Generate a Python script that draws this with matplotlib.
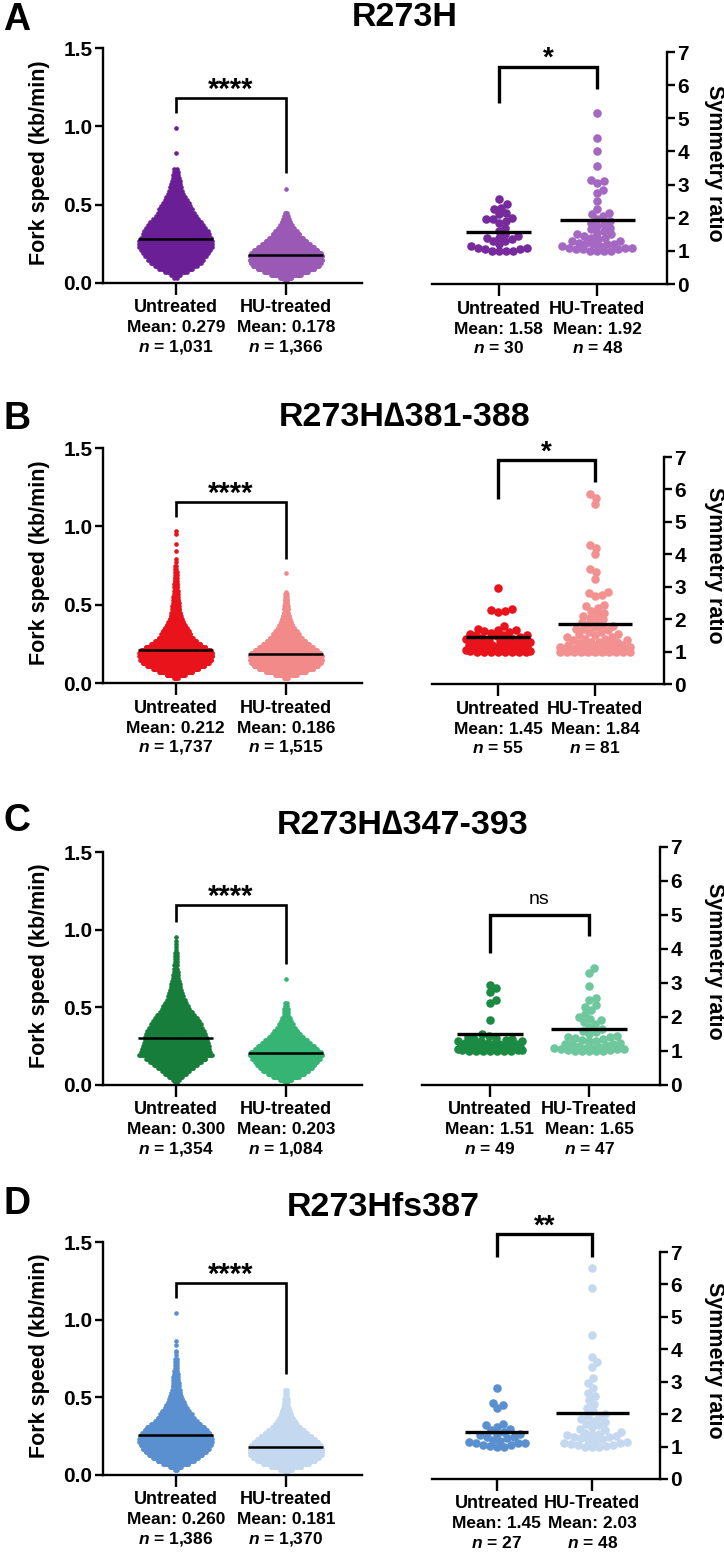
import numpy as np
import matplotlib
matplotlib.use('Agg')
import matplotlib.pyplot as plt

plt.rcParams['font.family'] = ['Liberation Sans', 'DejaVu Sans']
plt.rcParams['font.weight'] = 'bold'
plt.rcParams['mathtext.fontset'] = 'custom'
plt.rcParams['mathtext.it'] = 'Liberation Sans:italic:bold'
plt.rcParams['mathtext.rm'] = 'Liberation Sans:bold'

# ---- data ----
titles = ['R273H', 'R273H\u2206381-388', 'R273H\u2206347-393', 'R273Hfs387']
letters = ['A', 'B', 'C', 'D']
speed_groups = ['Untreated', 'HU-treated']
ratio_groups = ['Untreated', 'HU-Treated']

speed_means = [[0.279, 0.178], [0.212, 0.186], [0.300, 0.203], [0.260, 0.181]]
speed_n = [['1,031', '1,366'], ['1,737', '1,515'], ['1,354', '1,084'], ['1,386', '1,370']]
ratio_means = [[1.58, 1.92], [1.45, 1.84], [1.51, 1.65], [1.45, 2.03]]
ratio_n = [['30', '48'], ['55', '81'], ['49', '47'], ['27', '48']]
speed_sig = ['****', '****', '****', '****']
ratio_sig = ['*', '*', 'ns', '**']

# fork speed: number of fibres per 0.02 kb/min bin (starting at 0), plus isolated high values
BIN = 0.02
a_untr_bins = [0, 2, 7, 17, 26, 33, 39, 43, 48, 51, 54, 57, 57, 57, 55, 52, 50, 46, 43, 40, 35, 31,
               28, 26, 23, 20, 17, 15, 12, 10, 9, 7, 6, 5, 4, 3, 2]
a_untr_high = [0.83, 0.99]
a_hu_bins = [2, 18, 48, 72, 93, 108, 116, 120, 120, 114, 104, 92, 79, 67, 55, 44, 35, 26, 19, 14,
             10, 6, 4]
a_hu_high = [0.60]
b_untr_bins = [0, 7, 36, 64, 89, 112, 129, 139, 143, 143, 136, 117, 97, 80, 67, 57, 51, 43, 36, 29,
               24, 20, 17, 14, 13, 11, 10, 9, 7, 7, 6, 6, 4, 4, 3, 3, 2, 2]
b_untr_high = [0.77, 0.79, 0.84, 0.89, 0.95, 0.97]
b_hu_bins = [0, 7, 40, 74, 100, 118, 128, 134, 134, 127, 114, 99, 84, 71, 59, 48, 39, 31, 24, 19,
             15, 12, 9, 8, 7, 5, 5, 4, 3]
b_hu_high = [0.58, 0.70]
c_untr_bins = [2, 6, 14, 22, 29, 37, 45, 54, 63, 77, 73, 71, 70, 68, 66, 65, 62, 60, 56, 53, 49, 44,
               39, 34, 29, 26, 22, 19, 16, 14, 12, 10, 9, 7, 5, 5, 4, 3, 3, 2, 2, 2, 2, 1, 1, 1, 1, 1]
c_untr_high = []
c_hu_bins = [3, 14, 32, 46, 57, 65, 72, 79, 86, 92, 88, 79, 70, 61, 52, 43, 36, 29, 22, 18, 13, 9,
             6, 5, 4, 3, 2]
c_hu_high = [0.68]
d_untr_bins = [0, 3, 14, 32, 46, 57, 67, 76, 84, 89, 92, 92, 90, 85, 79, 72, 62, 53, 46, 40, 34, 28,
               24, 20, 17, 14, 12, 10, 8, 7, 6, 6, 5, 4, 3, 3, 2, 2, 1, 1]
d_untr_high = [0.80, 0.84, 0.86, 1.04]
d_hu_bins = [2, 18, 48, 72, 90, 104, 112, 114, 114, 109, 101, 91, 79, 67, 55, 44, 35, 27, 21, 17,
             13, 10, 7, 6, 5, 4, 3, 2]
d_hu_high = []

# symmetry ratios
a_untr_ratio = [2.55, 2.4, 2.3, 2.25, 2.15, 2.1, 2.0, 1.95, 1.95, 1.9, 1.85, 1.7, 1.6, 1.5, 1.45,
                1.4, 1.4, 1.35, 1.3, 1.3, 1.2, 1.15, 1.1, 1.1, 1.05, 1.05, 1.0, 1.0, 1.0, 1.0]
a_hu_ratio = [5.15, 4.4, 4.0, 3.55, 3.15, 3.1, 3.05, 2.85, 2.75, 2.5, 2.25, 2.15, 2.1, 2.05, 1.95,
              1.9, 1.85, 1.8, 1.75, 1.7, 1.65, 1.6, 1.55, 1.5, 1.5, 1.45, 1.4, 1.4, 1.35, 1.3, 1.3,
              1.25, 1.25, 1.2, 1.2, 1.2, 1.15, 1.15, 1.1, 1.1, 1.1, 1.05, 1.05, 1.05, 1.0, 1.0, 1.0, 1.0]
b_untr_ratio = [2.95, 2.3, 2.28, 2.25, 2.22, 1.8, 1.7, 1.68, 1.65, 1.62, 1.6, 1.58, 1.55, 1.52, 1.5,
                1.5, 1.48, 1.45, 1.42, 1.4, 1.4, 1.38, 1.35, 1.33, 1.3, 1.3, 1.28, 1.25, 1.25, 1.22,
                1.2, 1.2, 1.2, 1.18, 1.15, 1.15, 1.12, 1.1, 1.1, 1.1, 1.08, 1.05, 1.05, 1.05, 1.05,
                1.02, 1.02, 1.0, 1.0, 1.0, 1.0, 1.0, 1.0, 1.0, 1.0]
b_hu_ratio = [5.85, 5.75, 5.55, 4.3, 4.2, 4.0, 3.55, 3.45, 3.25, 2.85, 2.8, 2.75, 2.7, 2.45, 2.4,
              2.35, 2.25, 2.2, 2.15, 2.1, 2.05, 2.0, 1.95, 1.9, 1.85, 1.8, 1.8, 1.75, 1.7, 1.7, 1.65,
              1.6, 1.6, 1.55, 1.5, 1.5, 1.45, 1.45, 1.4, 1.4, 1.35, 1.35, 1.3, 1.3, 1.3, 1.25, 1.25,
              1.2, 1.2, 1.2, 1.2, 1.15, 1.15, 1.15, 1.1, 1.1, 1.1, 1.1, 1.1, 1.08, 1.08, 1.05, 1.05,
              1.05, 1.05, 1.05, 1.02, 1.02, 1.02, 1.02, 1.0, 1.0, 1.0, 1.0, 1.0, 1.0, 1.0, 1.0, 1.0,
              1.0, 1.0]
c_untr_ratio = [2.95, 2.85, 2.75, 2.5, 2.4, 1.9, 1.5, 1.45, 1.4, 1.38, 1.35, 1.35, 1.32, 1.3, 1.3,
                1.28, 1.25, 1.25, 1.22, 1.2, 1.2, 1.2, 1.18, 1.18, 1.15, 1.15, 1.15, 1.12, 1.12, 1.1,
                1.1, 1.1, 1.1, 1.08, 1.08, 1.05, 1.05, 1.05, 1.05, 1.02, 1.02, 1.02, 1.0, 1.0, 1.0,
                1.0, 1.0, 1.0, 1.0]
c_hu_ratio = [3.45, 3.3, 2.9, 2.55, 2.5, 2.35, 2.3, 2.2, 2.1, 2.0, 1.95, 1.9, 1.85, 1.8, 1.7, 1.65,
              1.6, 1.55, 1.5, 1.45, 1.42, 1.4, 1.38, 1.35, 1.32, 1.3, 1.28, 1.25, 1.22, 1.2, 1.2,
              1.18, 1.15, 1.12, 1.1, 1.1, 1.08, 1.05, 1.05, 1.05, 1.02, 1.02, 1.0, 1.0, 1.0, 1.0, 1.0]
d_untr_ratio = [2.8, 2.35, 2.28, 2.18, 1.7, 1.65, 1.6, 1.55, 1.5, 1.45, 1.4, 1.38, 1.35, 1.3, 1.28,
                1.25, 1.2, 1.18, 1.15, 1.12, 1.1, 1.1, 1.05, 1.05, 1.02, 1.0, 1.0]
d_hu_ratio = [6.5, 5.9, 4.45, 3.75, 3.6, 3.45, 3.1, 2.95, 2.8, 2.65, 2.55, 2.45, 2.3, 2.2, 2.1, 2.0,
              1.95, 1.9, 1.85, 1.8, 1.75, 1.7, 1.65, 1.6, 1.55, 1.5, 1.45, 1.42, 1.4, 1.38, 1.35,
              1.32, 1.3, 1.28, 1.25, 1.22, 1.2, 1.18, 1.15, 1.12, 1.1, 1.08, 1.05, 1.05, 1.02, 1.0,
              1.0, 1.0]

speed_bins = [(a_untr_bins, a_hu_bins), (b_untr_bins, b_hu_bins),
              (c_untr_bins, c_hu_bins), (d_untr_bins, d_hu_bins)]
speed_high = [(a_untr_high, a_hu_high), (b_untr_high, b_hu_high),
              (c_untr_high, c_hu_high), (d_untr_high, d_hu_high)]
ratios = [(a_untr_ratio, a_hu_ratio), (b_untr_ratio, b_hu_ratio),
          (c_untr_ratio, c_hu_ratio), (d_untr_ratio, d_hu_ratio)]

# ---- style / layout ----
left_colors = [('#6a1f96', '#9a59b4'), ('#e8131b', '#f28a8a'),
               ('#177d3b', '#35b473'), ('#5b90d0', '#c4d8ef')]
right_colors = [('#762a9c', '#a468c2'), ('#e8131b', '#f39090'),
                ('#1b8a43', '#6fc79d'), ('#5b90d0', '#c4d8ef')]

W, H = 724, 1553
# pixel boxes (x0, x1, ytop, ybottom)
left_box = [(103, 362, 48, 283), (103, 362, 448, 683), (103, 362, 852, 1085), (103, 362, 1242, 1475)]
right_box = [(432, 667, 52, 284), (432, 664, 457, 684), (422, 660, 847, 1085), (432, 660, 1252, 1479)]
title_pos = [(405, 18), (405, 417), (403, 826), (383, 1208)]
letter_pos = [(17, 20), (17, 419), (17, 821), (17, 1204)]
# brackets: (left end, top, right end)
left_br = [(1.085, 1.18, 0.70), (1.06, 1.155, 0.79), (1.05, 1.16, 0.78), (1.14, 1.236, 0.65)]
right_br = [(5.46, 6.55, 5.89), (5.69, 6.9, 6.23), (3.89, 5.0, 4.38), (6.84, 7.54, 6.84)]
LX = (-0.66, 1.69)
RX = (-0.68, 1.71)
FS_TICK = 15


def box_axes(fig, b):
    x0, x1, yt, yb = b
    return fig.add_axes([x0 / W, 1 - yb / H, (x1 - x0) / W, (yb - yt) / H])


def fork_points(counts, high, hw):
    counts = np.asarray(counts)
    cmax = counts.max()
    xs, ys = [], []
    for i, c in enumerate(counts):
        if c == 0:
            continue
        y = (i + 0.5) * BIN
        w = hw * c / cmax
        if c == 1:
            xs.append(0.0)
        else:
            xs.extend(np.linspace(-w, w, c))
        ys.extend([y] * c)
    for v in high:
        xs.append(0.0)
        ys.append(v)
    return np.array(xs), np.array(ys)


def swarm(vals, pxx, pxy, dmin=6.0, cap=34):
    ypx = np.asarray(vals) * pxy
    order = np.argsort(ypx, kind='stable')
    cands = [0]
    for k in range(1, cap + 1):
        cands += [k, -k]
    placed = []
    xs = np.zeros(len(vals))
    for i in order:
        best, best_d = 0, -1
        for c in cands:
            if placed:
                d = min(np.hypot(c - px, ypx[i] - py) for px, py in placed)
            else:
                d = np.inf
            if d >= dmin:
                best = c
                break
            if d > best_d:
                best, best_d = c, d
        xs[i] = best
        placed.append((best, ypx[i]))
    return xs / pxx


def style_axis(ax):
    for s in ax.spines.values():
        s.set_linewidth(1.7)
    ax.tick_params(axis='x', length=8.5, width=1.7, labelbottom=False)
    ax.tick_params(axis='y', length=6.0, width=1.7, pad=1.5, labelsize=FS_TICK)
    ax.set_xticks([0, 1])


def under_labels(ax, groups, means, ns, fmt):
    rows = [(groups[0], groups[1], -25, 13),
            ('Mean: ' + fmt.format(means[0]), 'Mean: ' + fmt.format(means[1]), -45, 12.5),
            ('$n$ = ' + ns[0], '$n$ = ' + ns[1], -64, 12.5)]
    for t0, t1, dy, fs in rows:
        for k, t in enumerate((t0, t1)):
            ax.annotate(t, xy=(k, 0), xycoords=('data', 'axes fraction'),
                        xytext=(0, dy), textcoords='offset pixels', ha='center', va='center',
                        fontsize=fs, fontweight='bold')


def sig_text(ax, top, label, size, weight, lift):
    ax.annotate(label, xy=(0.5, top), xycoords='data', xytext=(0, lift),
                textcoords='offset pixels', ha='center', va='baseline',
                fontsize=size, fontweight=weight, annotation_clip=False)


fig = plt.figure(figsize=(W / 100, H / 100), dpi=100)

for p in range(4):
    # panel letter and title
    fig.text(letter_pos[p][0] / W, 1 - letter_pos[p][1] / H, letters[p], fontsize=27,
             fontweight='bold', ha='center', va='center')
    fig.text(title_pos[p][0] / W, 1 - title_pos[p][1] / H, titles[p], fontsize=24.5,
             fontweight='bold', ha='center', va='center')

    # ---- fork speed ----
    ax = box_axes(fig, left_box[p])
    style_axis(ax)
    ax.spines['top'].set_visible(False)
    ax.spines['right'].set_visible(False)
    ax.set_xlim(*LX)
    ax.set_ylim(0, 1.5)
    ax.set_yticks([0, 0.5, 1.0, 1.5])
    ax.set_yticklabels(['0.0', '0.5', '1.0', '1.5'])
    for k in range(2):
        xs, ys = fork_points(speed_bins[p][k], speed_high[p][k], 0.33)
        ax.scatter(k + xs, ys, s=11, color=left_colors[p][k], linewidths=0, clip_on=False, zorder=2)
        ax.plot([k - 0.34, k + 0.34], [speed_means[p][k]] * 2, color='black', lw=1.8, zorder=3,
                solid_capstyle='butt')
    yl, yt, yr = left_br[p]
    ax.plot([0, 0, 1, 1], [yl, yt, yt, yr], color='black', lw=1.9, clip_on=False,
            solid_joinstyle='miter', solid_capstyle='butt')
    sig_text(ax, yt, speed_sig[p], 21, 'bold', 0)
    under_labels(ax, speed_groups, speed_means[p], speed_n[p], '{:.3f}')
    x0, x1, ytp, ybt = left_box[p]
    fig.text(40 / W, 1 - ((ytp + ybt) / 2 - 3) / H, 'Fork speed (kb/min)', rotation=90,
             ha='center', va='center', fontsize=15.5, fontweight='bold')

    # ---- symmetry ratio ----
    ax2 = box_axes(fig, right_box[p])
    style_axis(ax2)
    ax2.spines['top'].set_visible(False)
    ax2.spines['left'].set_visible(False)
    ax2.yaxis.tick_right()
    ax2.set_xlim(*RX)
    ax2.set_ylim(0, 7)
    ax2.set_yticks(range(8))
    x0, x1, ytp, ybt = right_box[p]
    pxx = (x1 - x0) / (RX[1] - RX[0])
    pxy = (ybt - ytp) / 7.0
    for k in range(2):
        off = swarm(ratios[p][k], pxx, pxy, dmin=6.5, cap=32 if k == 0 else 35)
        ax2.scatter(k + off, ratios[p][k], s=38, color=right_colors[p][k], linewidths=0,
                    clip_on=False, zorder=2)
        hw = 0.33 if k == 0 else 0.38
        ax2.plot([k - hw, k + hw], [ratio_means[p][k]] * 2, color='black', lw=2.4, zorder=3,
                 solid_capstyle='butt')
    yl, yt, yr = right_br[p]
    ax2.plot([0, 0, 1, 1], [yl, yt, yt, yr], color='black', lw=2.4, clip_on=False,
             solid_joinstyle='miter', solid_capstyle='butt')
    if ratio_sig[p] == 'ns':
        sig_text(ax2, yt, 'ns', 14, 'normal', 11)
    else:
        sig_text(ax2, yt, ratio_sig[p], 20, 'bold', 1)
    under_labels(ax2, ratio_groups, ratio_means[p], ratio_n[p], '{:.2f}')
    fig.text(714 / W, 1 - ((ytp + ybt) / 2 - 5) / H, 'Symmetry ratio', rotation=270,
             ha='center', va='center', fontsize=15.5, fontweight='bold')

fig.savefig('out.png', dpi=100)
